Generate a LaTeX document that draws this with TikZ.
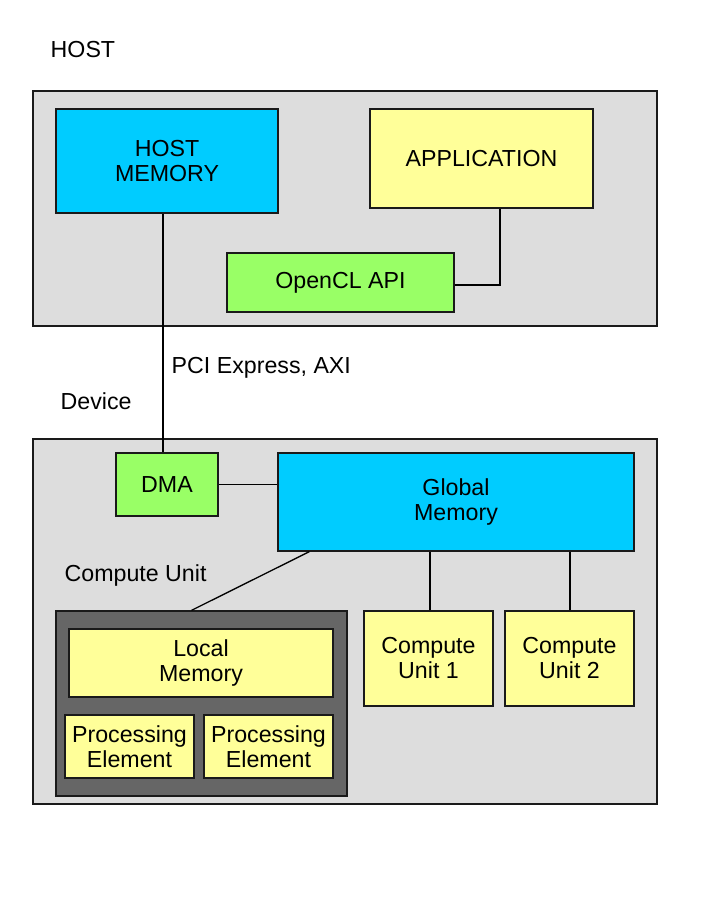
\documentclass[tikz,border=0pt]{standalone}
\usepackage{fontspec}
\setmainfont{Liberation Sans}
\definecolor{outergray}{HTML}{DDDDDD}
\definecolor{darkgray}{HTML}{666666}
\definecolor{memblue}{HTML}{00CCFF}
\definecolor{lightyellow}{HTML}{FFFF99}
\definecolor{lightgreen}{HTML}{99FF66}
\definecolor{edge}{HTML}{1A1A1A}
\begin{document}
\begin{tikzpicture}[x=1pt,y=-1pt,
  every node/.style={font=\fontsize{23.2}{25}\selectfont},
  region/.style={draw=edge,line width=1.3pt,fill=outergray},
  box/.style={draw=edge,line width=1.3pt,align=center,inner sep=0pt},
  bluebox/.style={box,fill=memblue},
  yellowbox/.style={box,fill=lightyellow},
  greenbox/.style={box,fill=lightgreen},
  darkbox/.style={box,fill=darkgray},
  lbl/.style={anchor=base west,inner sep=0pt},
  wire/.style={draw=black,line width=1.3pt}]
\useasboundingbox (0,0) rectangle (714,924);
\fill[white] (0,0) rectangle (714,924);

% outer regions
\draw[region] (33,91) rectangle (657,326);
\draw[region] (33,439) rectangle (657,804);

% labels
\node[lbl] (hostlbl) at (50.5,57) {HOST};
\node[lbl] (pcilbl) at (171.5,373) {PCI Express, AXI};
\node[lbl] (devlbl) at (60.5,409) {Device};
\node[lbl] (culbl) at (64.5,581) {Compute Unit};

% host boxes
\node[bluebox,minimum width=222pt,minimum height=104pt] (hostmem) at (167,161) {HOST\\MEMORY};
\node[yellowbox,minimum width=223pt,minimum height=99pt] (app) at (481.5,158.5) {APPLICATION};
\node[greenbox,minimum width=227pt,minimum height=59pt] (opencl) at (340.5,282.5) {OpenCL API};

% device boxes
\node[greenbox,minimum width=102pt,minimum height=63pt] (dma) at (167,484.5) {DMA};
\node[bluebox,minimum width=356pt,minimum height=98pt] (global) at (456,502) {Global\\Memory};
\node[darkbox,minimum width=291pt,minimum height=185pt] (cu) at (201.5,703.5) {};
\node[yellowbox,minimum width=264pt,minimum height=68pt] (local) at (201,663) {Local\\Memory};
\node[yellowbox,minimum width=129pt,minimum height=63pt] (pe1) at (129.5,746.5) {Processing\\Element};
\node[yellowbox,minimum width=129pt,minimum height=63pt] (pe2) at (268.5,746.5) {Processing\\Element};
\node[yellowbox,minimum width=129pt,minimum height=95pt] (cu1) at (428.5,658.5) {Compute\\Unit 1};
\node[yellowbox,minimum width=129pt,minimum height=95pt] (cu2) at (569.5,658.5) {Compute\\Unit 2};

% connectors
\draw[wire] ([xshift=-4pt]hostmem.south) -- ([xshift=-4pt]dma.north);
\draw[wire] ([yshift=-2.5pt]opencl.east) -| ([xshift=18.5pt]app.south);
\draw[wire] (dma.east) -- (dma.east -| global.west);
\draw[wire] ([xshift=32pt]global.south west) -- ([xshift=-10pt]cu.north);
\draw[wire] ([xshift=1.5pt]cu1.north) -- ([xshift=1.5pt]cu1.north |- global.south);
\draw[wire] ([xshift=0.5pt]cu2.north) -- ([xshift=0.5pt]cu2.north |- global.south);
\end{tikzpicture}
\end{document}
